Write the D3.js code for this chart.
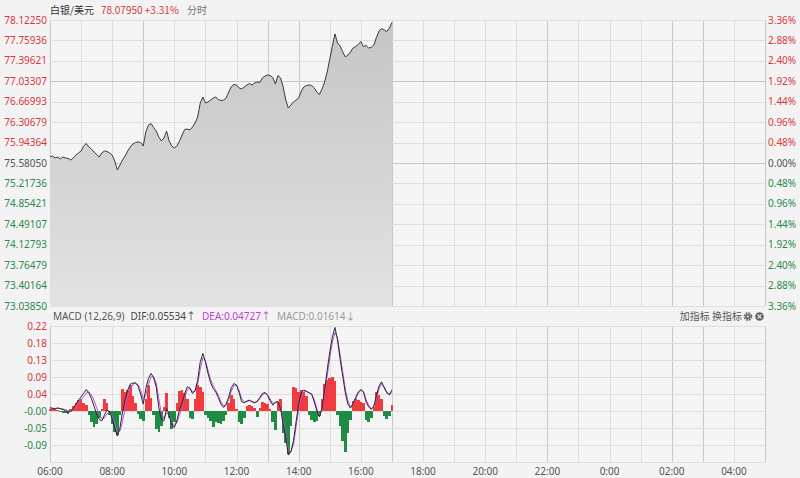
<!DOCTYPE html>
<html>
<head>
<meta charset="utf-8">
<script src="https://cdn.jsdelivr.net/npm/d3@7"></script>
<style>
  html, body { margin: 0; padding: 0; background: #f3f3f3; }
  svg { display: block; font-family: "Noto Sans", "Noto Sans CJK SC", sans-serif; }
</style>
</head>
<body>
<svg id="chart" width="800" height="478"></svg>
<script>
/* ── 白银/美元 分时 + MACD ───────────────────────────────────────── */
(function () {
  "use strict";

  /* ── Data ─────────────────────────────────────────────────────── */
  const basePrice  = "75.58050";
  const lastPrice  = "78.07950";
  const lastChange = "+3.31%";
  const macdHead   = { dif: "0.05534↑", dea: "0.04727↑", macd: "0.01614↓" };

  const priceTicks = ["78.12250", "77.75936", "77.39621", "77.03307", "76.66993", "76.30679", "75.94364",
                      "75.58050", "75.21736", "74.85421", "74.49107", "74.12793", "73.76479", "73.40164", "73.03850"];
  const pctTicks   = ["3.36%", "2.88%", "2.40%", "1.92%", "1.44%", "0.96%", "0.48%",
                      "0.00%", "0.48%", "0.96%", "1.44%", "1.92%", "2.40%", "2.88%", "3.36%"];

  const macdTickVals   = [0.2245, 0.1795, 0.1345, 0.0895, 0.0445, -0.0005, -0.0455, -0.0905, -0.1355];
  const macdTickLabels = ["0.22", "0.18", "0.13", "0.09", "0.04", "-0.00", "-0.05", "-0.09", ""];

  const timeLabels = ["06:00", "08:00", "10:00", "12:00", "14:00", "16:00",
                      "18:00", "20:00", "22:00", "0:00", "02:00", "04:00"];
  const sessionHours = [9, 13, 14, 17, 22, 26, 27];   // hours after 00:00 of day 1

  // 5-minute samples from 06:00 to 17:00
  const price = [
    75.687, 75.705, 75.669, 75.687, 75.652, 75.687, 75.669, 75.661, 75.634, 75.669,
    75.723, 75.758, 75.794, 75.883, 75.927, 75.865, 75.829, 75.776, 75.732, 75.687,
    75.758, 75.794, 75.785, 75.758, 75.723, 75.616, 75.456, 75.545, 75.634, 75.705,
    75.794, 75.865, 75.918, 75.945, 75.954, 75.945, 75.883, 76.132, 76.256, 76.283,
    76.212, 76.149, 76.043, 75.972, 76.025, 76.149, 75.972, 75.883, 75.847, 75.883,
    75.972, 76.078, 76.176, 76.185, 76.167, 76.221, 76.292, 76.398, 76.647, 76.754,
    76.647, 76.665, 76.700, 76.736, 76.754, 76.709, 76.692, 76.700, 76.736, 76.843,
    76.940, 76.976, 76.967, 76.914, 76.896, 76.932, 76.967, 76.994, 76.967, 77.003,
    77.020, 77.012, 77.092, 77.127, 77.145, 77.136, 77.100, 76.985, 77.136, 77.092,
    76.932, 76.700, 76.558, 76.612, 76.665, 76.700, 76.736, 76.860, 76.932, 76.958,
    76.967, 76.958, 76.914, 76.843, 76.798, 76.896, 77.020, 77.198, 77.429, 77.660,
    77.874, 77.714, 77.660, 77.554, 77.465, 77.500, 77.554, 77.625, 77.651, 77.687,
    77.740, 77.651, 77.669, 77.625, 77.634, 77.678, 77.811, 77.927, 77.971, 77.945,
    77.918, 77.980, 78.0795
  ];

  const dif = [
    0.0088, 0.0062, 0.0053, 0.0079, 0.0053, 0.0035, 0.0000, -0.0035, -0.0018, 0.0062,
    0.0176, 0.0282, 0.0370, 0.0467, 0.0564, 0.0476, 0.0326, 0.0123, -0.0088, -0.0229,
    -0.0265, -0.0115, 0.0018, -0.0018, -0.0203, -0.0467, -0.0670, -0.0450, -0.0026, 0.0300,
    0.0547, 0.0706, 0.0732, 0.0741, 0.0653, 0.0441, 0.0176, 0.0591, 0.0856, 0.0988,
    0.0882, 0.0635, 0.0088, -0.0229, -0.0265, 0.0062, -0.0115, -0.0379, -0.0441, -0.0247,
    0.0035, 0.0212, 0.0459, 0.0635, 0.0600, 0.0459, 0.0529, 0.0811, 0.1297, 0.1517,
    0.1297, 0.0988, 0.0741, 0.0591, 0.0494, 0.0353, 0.0176, 0.0088, 0.0176, 0.0370,
    0.0617, 0.0723, 0.0679, 0.0485, 0.0238, 0.0212, 0.0256, 0.0282, 0.0238, 0.0212,
    0.0256, 0.0353, 0.0459, 0.0485, 0.0406, 0.0265, 0.0150, 0.0229, 0.0247, 0.0062,
    -0.0353, -0.0706, -0.1173, -0.1085, -0.0794, -0.0291, 0.0194, 0.0476, 0.0547, 0.0520,
    0.0476, 0.0441, 0.0238, 0.0000, -0.0159, 0.0062, 0.0547, 0.1076, 0.1561, 0.1958,
    0.2205, 0.1870, 0.1358, 0.0917, 0.0476, 0.0176, 0.0071, 0.0194, 0.0353, 0.0503,
    0.0564, 0.0503, 0.0238, 0.0106, 0.0035, 0.0123, 0.0406, 0.0653, 0.0767, 0.0609,
    0.0476, 0.0423, 0.05534
  ];

  const dea = [
    0.006, 0.007, 0.006, 0.006, 0.006, 0.005, 0.003, 0.000, -0.001, 0.001,
    0.008, 0.018, 0.028, 0.038, 0.047, 0.050, 0.042, 0.027, 0.008, -0.010,
    -0.021, -0.019, -0.008, -0.004, -0.013, -0.033, -0.055, -0.054, -0.028, 0.008,
    0.038, 0.060, 0.070, 0.073, 0.069, 0.054, 0.031, 0.043, 0.070, 0.090,
    0.090, 0.074, 0.032, -0.008, -0.021, -0.006, -0.009, -0.028, -0.040, -0.032,
    -0.010, 0.012, 0.036, 0.055, 0.060, 0.051, 0.052, 0.070, 0.110, 0.140,
    0.133, 0.107, 0.083, 0.066, 0.054, 0.041, 0.024, 0.013, 0.016, 0.030,
    0.052, 0.067, 0.068, 0.054, 0.032, 0.024, 0.025, 0.027, 0.025, 0.022,
    0.024, 0.032, 0.042, 0.047, 0.043, 0.031, 0.019, 0.021, 0.023, 0.011,
    -0.024, -0.060, -0.104, -0.108, -0.088, -0.042, 0.006, 0.038, 0.050, 0.051,
    0.048, 0.045, 0.029, 0.006, -0.011, 0.001, 0.042, 0.092, 0.140, 0.182,
    0.207, 0.193, 0.148, 0.102, 0.058, 0.026, 0.011, 0.017, 0.031, 0.046,
    0.054, 0.051, 0.030, 0.015, 0.006, 0.010, 0.033, 0.058, 0.072, 0.064,
    0.050, 0.045, 0.04727
  ];

  const hist = [
    0.006, 0.004, 0.005, 0.002, -0.004, -0.005, -0.007, -0.008, 0.004, 0.012,
    0.020, 0.028, 0.030, 0.022, 0.016, -0.010, -0.030, -0.042, -0.036, -0.020,
    0.006, 0.032, 0.020, -0.012, -0.035, -0.055, -0.064, -0.010, 0.059, 0.050,
    0.056, 0.068, 0.040, 0.022, -0.008, -0.022, -0.026, 0.030, 0.068, 0.035,
    -0.010, -0.048, -0.056, -0.040, 0.010, 0.046, -0.020, -0.047, -0.030, 0.020,
    0.052, 0.055, 0.048, 0.030, -0.018, -0.022, 0.030, 0.068, 0.062, 0.050,
    -0.010, -0.020, -0.026, -0.042, -0.030, -0.033, -0.036, -0.026, -0.010, 0.020,
    0.041, 0.030, 0.005, -0.030, -0.034, -0.018, 0.012, 0.015, 0.014, 0.008,
    -0.016, 0.008, 0.024, 0.022, 0.018, 0.006, -0.030, -0.051, 0.020, 0.030,
    -0.060, -0.085, -0.113, -0.040, 0.064, 0.060, 0.050, 0.054, 0.050, 0.040,
    -0.012, -0.025, -0.029, -0.026, -0.015, 0.030, 0.070, 0.082, 0.086, 0.090,
    0.080, -0.010, -0.040, -0.080, -0.108, -0.060, -0.025, 0.025, 0.030, 0.028,
    0.024, 0.020, -0.025, -0.029, -0.020, 0.010, 0.050, 0.042, 0.030, -0.015,
    -0.022, -0.015, 0.01614
  ];

  /* ── Layout ───────────────────────────────────────────────────── */
  const L = 50, R = 765;
  const mainTop = 20, mainBot = 306;
  const macdTop = 326, macdBot = 462;
  const STEP = 5; // minutes per sample

  const RED = "#d7383e", GREEN = "#2b8a4c", GRAY = "#555";

  const svg = d3.select("#chart");

  const x  = d3.scaleLinear().domain([0, 23 * 60]).range([L, R]);
  const yP = d3.scaleLinear().domain([+priceTicks[priceTicks.length - 1], +priceTicks[0]]).range([mainBot, mainTop]);
  const yM = d3.scaleLinear().domain([macdTickVals[macdTickVals.length - 1], macdTickVals[0]]).range([macdBot, macdTop]);
  const tOf = i => i * STEP;

  /* ── Panel backgrounds ────────────────────────────────────────── */
  svg.append("rect").attr("x", L).attr("y", mainTop).attr("width", R - L).attr("height", mainBot - mainTop).attr("fill", "#f5f5f5");
  svg.append("rect").attr("x", L).attr("y", macdTop).attr("width", R - L).attr("height", macdBot - macdTop).attr("fill", "#f5f5f5");

  /* ── Grid ─────────────────────────────────────────────────────── */
  const grid = svg.append("g").attr("shape-rendering", "crispEdges");
  const hours = d3.range(0, 24);
  [[mainTop, mainBot], [macdTop, macdBot]].forEach(([t, b]) => {
    grid.selectAll(null).data(hours).join("line")
      .attr("x1", h => Math.round(x(h * 60)) + 0.5).attr("x2", h => Math.round(x(h * 60)) + 0.5)
      .attr("y1", t).attr("y2", b)
      .attr("stroke", h => sessionHours.includes(h + 6) || h === 0 || h === 23 ? "#c9c9c9" : "#dedede");
  });

  grid.selectAll(null).data(priceTicks).join("line")
    .attr("x1", L).attr("x2", R)
    .attr("y1", d => Math.round(yP(+d)) + 0.5).attr("y2", d => Math.round(yP(+d)) + 0.5)
    .attr("stroke", d => d === "77.03307" || d === basePrice ? "#c6c6c6" : "#dedede");

  grid.selectAll(null).data(macdTickVals).join("line")
    .attr("x1", L).attr("x2", R)
    .attr("y1", d => Math.round(yM(d)) + 0.5).attr("y2", d => Math.round(yM(d)) + 0.5)
    .attr("stroke", "#dedede");

  /* ── Price area + line ────────────────────────────────────────── */
  const grad = svg.append("defs").append("linearGradient")
    .attr("id", "fillG").attr("gradientUnits", "userSpaceOnUse")
    .attr("x1", 0).attr("x2", 0).attr("y1", mainTop).attr("y2", mainBot);
  grad.append("stop").attr("offset", 0).attr("stop-color", "#c5c5c5");
  grad.append("stop").attr("offset", 1).attr("stop-color", "#e2e2e2");

  svg.append("path").datum(price)
    .attr("d", d3.area().x((d, i) => x(tOf(i))).y0(mainBot).y1(d => yP(d)))
    .attr("fill", "url(#fillG)");
  svg.append("path").datum(price)
    .attr("d", d3.line().x((d, i) => x(tOf(i))).y(d => yP(d)))
    .attr("fill", "none").attr("stroke", "#3a3a3a").attr("stroke-width", 1);

  /* ── MACD histogram + lines ───────────────────────────────────── */
  const bx0 = i => Math.round(x(tOf(i) - STEP / 2));
  const bx1 = i => Math.round(x(tOf(i) + STEP / 2));
  svg.append("g").attr("shape-rendering", "crispEdges").selectAll("rect").data(hist).join("rect")
    .attr("x", (d, i) => bx0(i))
    .attr("width", (d, i) => bx1(i) - bx0(i))
    .attr("y", d => Math.min(yM(0), yM(d)))
    .attr("height", d => Math.abs(yM(d) - yM(0)))
    .attr("fill", d => d >= 0 ? "#f23b3f" : "#1f8c46");

  const mline = d3.line().x((d, i) => x(tOf(i))).y(d => yM(d));
  svg.append("path").datum(dea).attr("d", mline)
    .attr("fill", "none").attr("stroke", "#bb4fdd").attr("stroke-width", 1);
  svg.append("path").datum(dif).attr("d", mline)
    .attr("fill", "none").attr("stroke", "#2a2a2a").attr("stroke-width", 1);

  /* ── Axis labels ──────────────────────────────────────────────── */
  const lab = svg.append("g").attr("font-size", 10);
  const mid = priceTicks.indexOf(basePrice);
  const colorOf = (i) => i < mid ? RED : i === mid ? GRAY : GREEN;

  lab.selectAll(null).data(priceTicks).join("text")
    .attr("x", L - 3).attr("y", d => yP(+d) + 3.5).attr("text-anchor", "end")
    .attr("fill", (d, i) => colorOf(i)).text(d => d);

  lab.selectAll(null).data(pctTicks).join("text")
    .attr("x", R + 3).attr("y", (d, i) => yP(+priceTicks[i]) + 3.5)
    .attr("fill", (d, i) => colorOf(i)).text(d => d);

  lab.selectAll(null).data(macdTickLabels).join("text")
    .attr("x", L - 3).attr("y", (d, i) => yM(macdTickVals[i]) + 3.5).attr("text-anchor", "end")
    .attr("fill", (d, i) => macdTickVals[i] > 0 ? RED : GREEN).text(d => d);

  lab.selectAll(null).data(timeLabels).join("text")
    .attr("x", (d, i) => x(i * 120)).attr("y", 475).attr("text-anchor", "middle")
    .attr("fill", "#555").text(d => d);

  /* ── Headers ──────────────────────────────────────────────────── */
  const head = svg.append("text").attr("x", L).attr("y", 14).attr("font-size", 10)
    .attr("font-family", "'Noto Sans CJK SC', 'Noto Sans', sans-serif");
  head.append("tspan").attr("fill", "#333").text("白银/美元");
  head.append("tspan").attr("dx", 7).attr("fill", RED).text(lastPrice + " " + lastChange);
  head.append("tspan").attr("dx", 8).attr("fill", "#777").text("分时");

  const mh = svg.append("text").attr("x", L + 3).attr("y", 320).attr("font-size", 10);
  mh.append("tspan").attr("fill", "#555").text("MACD (12,26,9)");
  mh.append("tspan").attr("dx", 6).attr("fill", "#444").text("DIF:" + macdHead.dif);
  mh.append("tspan").attr("dx", 6).attr("fill", "#c23fd6").text("DEA:" + macdHead.dea);
  mh.append("tspan").attr("dx", 6).attr("fill", "#9a9a9a").text("MACD:" + macdHead.macd);

  svg.append("text").attr("x", 742).attr("y", 320).attr("font-size", 10).attr("text-anchor", "end")
    .attr("font-family", "'Noto Sans CJK SC', sans-serif").attr("fill", "#555").text("加指标 换指标");

  // gear + close icons
  const gear = svg.append("g").attr("transform", "translate(748,316.5)");
  gear.append("circle").attr("r", 3.3).attr("fill", "none").attr("stroke", "#666").attr("stroke-width", 2.2)
    .attr("stroke-dasharray", "1.6,1");
  gear.append("circle").attr("r", 2.6).attr("fill", "#666");
  gear.append("circle").attr("r", 1).attr("fill", "#f3f3f3");
  const close = svg.append("g").attr("transform", "translate(759.5,316.5)");
  close.append("circle").attr("r", 4.3).attr("fill", "#666");
  close.append("path").attr("d", "M-1.8,-1.8L1.8,1.8M1.8,-1.8L-1.8,1.8").attr("stroke", "#f3f3f3").attr("stroke-width", 1.2);
})();
</script>
</body>
</html>
